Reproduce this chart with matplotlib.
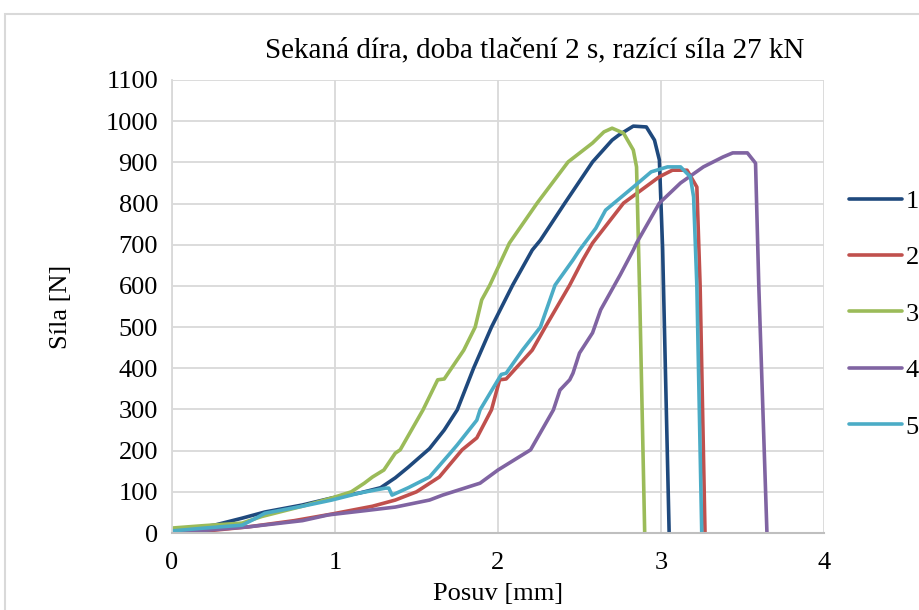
import matplotlib
matplotlib.use("Agg")
import matplotlib.pyplot as plt
from matplotlib.patches import Rectangle

plt.rcParams["font.family"] = ["Liberation Serif", "DejaVu Serif"]

# data (posuv in mm, síla in N)
x1 = [0, 0.26, 0.43, 0.57, 0.8, 0.98, 1.15, 1.28, 1.37, 1.45, 1.58, 1.67, 1.75, 1.85, 1.96, 2.09, 2.21, 2.26,
      2.41, 2.58, 2.70, 2.74, 2.83, 2.91, 2.96, 2.99, 3.01, 3.05]
y1 = [5, 19, 36, 51, 68, 85, 97, 110, 134, 160, 205, 250, 299, 400, 500, 602, 687, 711,
      801, 901, 954, 966, 988, 986, 954, 906, 690, 0]

x2 = [0, 0.16, 0.47, 0.75, 0.98, 1.23, 1.37, 1.50, 1.64, 1.78, 1.87, 1.96, 2.01, 2.05, 2.21, 2.29, 2.44,
      2.52, 2.58, 2.77, 2.99, 3.07, 3.16, 3.22, 3.24, 3.27]
y2 = [0, 3, 15, 30, 46, 65, 80, 100, 136, 202, 231, 299, 372, 374, 444, 500, 602,
      663, 704, 801, 865, 881, 881, 840, 600, 0]

x3 = [0, 0.2, 0.43, 0.55, 0.8, 0.98, 1.1, 1.18, 1.23, 1.30, 1.37, 1.40, 1.54, 1.63, 1.67, 1.79, 1.86, 1.90,
      1.95, 2.07, 2.24, 2.43, 2.58, 2.65, 2.70, 2.77, 2.83, 2.85, 2.87, 2.90]
y3 = [12, 18, 24, 40, 65, 85, 100, 121, 136, 153, 194, 202, 299, 372, 374, 444, 500, 566,
      602, 704, 801, 901, 947, 974, 983, 971, 930, 889, 566, 0]

x4 = [0, 0.47, 0.8, 0.96, 1.2, 1.37, 1.58, 1.66, 1.89, 2.0, 2.20, 2.34, 2.38, 2.44, 2.46, 2.50, 2.58, 2.63,
      2.75, 2.83, 2.85, 2.99, 3.12, 3.26, 3.38, 3.44, 3.53, 3.58, 3.60, 3.65]
y4 = [0, 15, 30, 44, 55, 63, 80, 92, 121, 153, 202, 299, 347, 372, 388, 437, 486, 542,
      627, 687, 704, 801, 850, 889, 913, 923, 923, 898, 600, 0]

x5 = [0, 0.2, 0.43, 0.51, 0.57, 0.8, 0.98, 1.15, 1.31, 1.33, 1.35, 1.45, 1.58, 1.72, 1.75, 1.87, 1.89,
      2.02, 2.05, 2.15, 2.26, 2.35, 2.46, 2.50, 2.60, 2.66, 2.83, 2.94, 3.04, 3.12, 3.18, 3.20, 3.22, 3.25]
y5 = [5, 12, 19, 35, 48, 65, 80, 97, 109, 109, 92, 110, 136, 200, 214, 274, 299,
      385, 388, 444, 500, 602, 663, 687, 740, 784, 840, 877, 889, 889, 865, 816, 600, 0]

series_x = [x1, x2, x3, x4, x5]
series_y = [y1, y2, y3, y4, y5]
labels = ["1", "2", "3", "4", "5"]
colors = ["#1F497D", "#C0504D", "#9BBB59", "#8064A2", "#4BACC6"]

fig = plt.figure(figsize=(9.19, 6.10), dpi=100)
ax = fig.add_axes([172 / 919, 1 - 533 / 610, (824 - 172) / 919, (533 - 80) / 610])

for xs, ys, lab, c in zip(series_x, series_y, labels, colors):
    ax.plot(xs, ys, color=c, lw=2.6, label=lab, solid_joinstyle="round", solid_capstyle="round")

ax.set_xlim(0, 4)
ax.set_ylim(0, 1100)
ax.set_xticks([0, 1, 2, 3, 4])
ax.set_yticks(range(0, 1101, 100))
ax.grid(True, color="#D9D9D9", lw=1.3)
ax.set_axisbelow(True)
ax.tick_params(length=0, labelsize=19)
ax.tick_params(axis="x", pad=14)
ax.tick_params(axis="y", pad=10)
for s in ["top", "right"]:
    ax.spines[s].set_visible(False)
ax.spines["left"].set_color("#D9D9D9")
ax.spines["left"].set_linewidth(1.3)
ax.spines["bottom"].set_color("#BFBFBF")
ax.spines["bottom"].set_linewidth(1.5)

ax.set_xlabel("Posuv [mm]", fontsize=19, labelpad=6)
ax.set_ylabel("Síla [N]", fontsize=19, labelpad=24)
fig.text(535 / 919, 1 - 50 / 610, "Sekaná díra, doba tlačení 2 s, razící síla 27 kN",
         ha="center", va="center", fontsize=21)

ax.legend(loc="upper left", bbox_to_anchor=(1.022, 0.782), frameon=False, fontsize=19,
          handlelength=2.0, handletextpad=0.15, labelspacing=1.25, borderaxespad=0)

fig.patches.append(Rectangle((5 / 919, -0.1), 1.2, 1.1 - 14 / 610, transform=fig.transFigure,
                             fill=False, edgecolor="#D9D9D9", lw=1.5))

fig.savefig("out.png", dpi=100)
